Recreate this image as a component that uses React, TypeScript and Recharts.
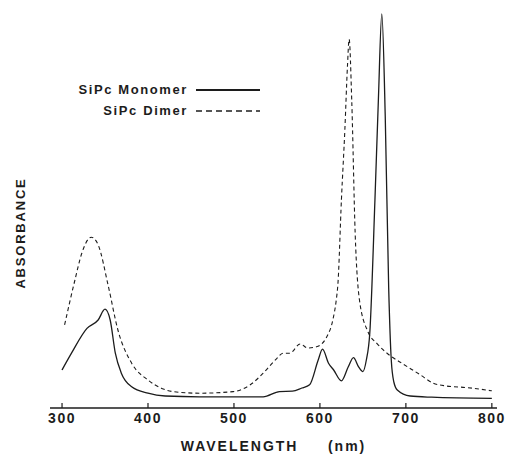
import { LineChart, Line, XAxis, YAxis, Legend } from "recharts";

// wavelength (nm) and absorbance (arbitrary units)
const monomerNm = [300, 311, 329, 342, 350, 356, 362, 369, 381, 400, 420, 460, 534, 553, 568, 579, 588, 598, 603, 610, 616, 625, 633, 639, 645, 650, 654, 658, 664, 668, 672, 676, 680, 683, 686, 690, 705, 730, 800];
const monomerAbs = [9.5, 13.7, 19.9, 22, 24.7, 22, 13.7, 8.7, 5.3, 3.7, 3, 2.8, 2.8, 4.1, 4.2, 5, 5.8, 12, 14.7, 11.2, 9.5, 6.8, 10.3, 12.6, 10.3, 9.1, 12, 18.7, 52, 77, 98.5, 72.8, 30, 12, 6.5, 4.5, 3, 2.7, 2.4];

const dimerNm = [303, 315, 323, 334, 342, 354, 365, 381, 400, 416, 429, 460, 499, 519, 534, 550, 557, 565, 577, 586, 596, 608, 615, 619, 621, 625, 629, 632, 634, 637, 641, 646, 656, 666, 681, 693, 716, 732, 747, 771, 800];
const dimerAbs = [20.8, 32, 38.7, 42.7, 40.8, 30.3, 19.5, 11.2, 7, 4.9, 4.1, 3.7, 4.1, 5.8, 8.7, 12.4, 13.7, 13.7, 16, 15, 15.3, 17.8, 22, 27, 31.2, 52, 69.5, 85.3, 92.2, 77, 43.7, 27, 19, 16.2, 13.2, 11.5, 8.4, 6.2, 5.5, 5.1, 4.3];

const xTicks = [300, 400, 500, 600, 700, 800];
const legendOrder = ["SiPc Monomer", "SiPc Dimer"];

const monomer = monomerNm.map((nm, i) => ({ nm, abs: monomerAbs[i] }));
const dimer = dimerNm.map((nm, i) => ({ nm, abs: dimerAbs[i] }));

const ink = "#1c1c1c";
const font = "'Liberation Sans', Arial, sans-serif";

const Tick = (props: any) => {
  const { x, y, payload } = props;
  return (
    <g>
      <line x1={x} y1={y} x2={x} y2={y - 5} stroke={ink} strokeWidth={1.2} />
      <text x={x} y={y + 15} textAnchor="middle" fill={ink} fontSize={14} fontWeight={600} letterSpacing={1.5} fontFamily={font}>
        {payload.value}
      </text>
    </g>
  );
};

const LegendBox = (props: any) => {
  const items = [...props.payload].sort((a: any, b: any) => legendOrder.indexOf(a.value) - legendOrder.indexOf(b.value));
  return (
    <div style={{ fontFamily: font, fontSize: 13, fontWeight: 600, color: ink, letterSpacing: 1.6 }}>
      {items.map((p: any) => {
        const solid = p.value.includes("Monomer");
        return (
          <div key={p.value} style={{ display: "flex", justifyContent: "flex-end", alignItems: "center", height: 21 }}>
            <span>{p.value}</span>
            <svg width={66} height={6} style={{ marginLeft: 8 }}>
              <line x1={0} y1={3} x2={64} y2={3} stroke={ink}
                strokeWidth={solid ? 2.2 : 1.5}
                strokeDasharray={solid ? undefined : "6 4"} />
            </svg>
          </div>
        );
      })}
    </div>
  );
};

export default function App() {
  return (
    <div style={{ position: "absolute", left: 0, top: 0, background: "#fff" }}>
      <LineChart width={509} height={457} margin={{ top: 8, right: 12, bottom: 0, left: 50 }}>
        <XAxis
          type="number"
          dataKey="nm"
          domain={[286, 806]}
          ticks={xTicks}
          allowDataOverflow
          height={49}
          tickSize={0}
          tickMargin={0}
          tickLine={false}
          tick={<Tick />}
          axisLine={{ stroke: ink, strokeWidth: 1.5 }}
          label={{ value: "WAVELENGTH\u00a0\u00a0\u00a0\u00a0\u00a0(nm)", position: "insideBottom", offset: 6, fill: ink, fontSize: 14, fontWeight: 700, letterSpacing: 2, fontFamily: font }}
        />
        <YAxis hide domain={[0, 100]} width={0} />
        <text x={25} y={233} transform="rotate(-90 25 233)" textAnchor="middle" fill={ink} fontSize={13} fontWeight={700} letterSpacing={1.8} fontFamily={font}>
          ABSORBANCE
        </text>
        <Legend content={<LegendBox />} verticalAlign="middle" align="center" wrapperStyle={{ top: 79, left: 60, width: 202 }} />
        <Line data={monomer} dataKey="abs" name="SiPc Monomer" type="monotone" stroke={ink} strokeWidth={1.3} dot={false} isAnimationActive={false} />
        <Line data={dimer} dataKey="abs" name="SiPc Dimer" type="monotone" stroke={ink} strokeWidth={1.1} strokeDasharray="4 3" dot={false} isAnimationActive={false} />
      </LineChart>
    </div>
  );
}
